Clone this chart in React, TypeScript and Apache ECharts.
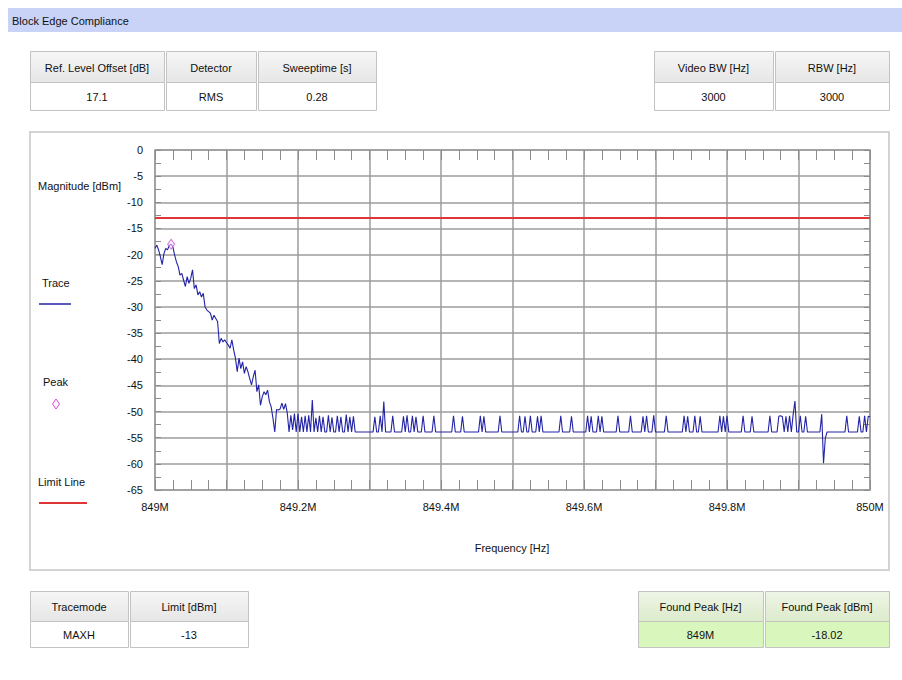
import React, { useEffect, useRef } from "react";
import * as echarts from "echarts";

// Sweep definition of the analyzer trace
const sweepStartHz = 849e6;
const sweepStopHz = 850e6;
const sweepPointCount = 401;

// Measured trace level per sweep point [dBm]
const traceDbm = [
  -18.8, -18.2, -19.1, -20.4, -21.9, -19.8, -18.8, -19.1, -18.2, -18.02, -18.5, -20.1, -21.4, -22.3, -23.9, -23.6, -24.9, -26.1, -24.2, -25.5,
  -24.5, -22.9, -26.5, -25.8, -27.7, -27.1, -28.1, -27.4, -30.0, -30.6, -30.9, -31.2, -32.5, -31.6, -32.2, -32.8, -37.0, -36.0, -36.7, -36.3,
  -36.8, -37.3, -37.9, -36.3, -38.2, -39.8, -42.4, -39.8, -41.8, -40.5, -42.7, -41.4, -42.4, -43.7, -44.9, -43.3, -42.1, -46.2, -44.9, -48.8,
  -47.2, -46.2, -46.8, -45.9, -48.1, -49.1, -51.3, -53.9, -49.6, -49.7, -49.5, -48.4, -49.6, -48.5, -50.3, -53.9, -50.7, -53.5, -50.4, -53.9,
  -50.4, -53.9, -51.0, -53.9, -50.8, -53.9, -50.7, -53.9, -47.8, -53.9, -51.2, -53.9, -50.8, -53.9, -51.0, -53.9, -53.9, -50.7, -53.9, -51.1,
  -53.9, -53.9, -50.8, -53.9, -51.0, -53.9, -53.9, -50.6, -53.9, -51.0, -53.9, -50.9, -53.9, -53.9, -53.9, -53.9, -53.9, -53.9, -53.9, -53.9,
  -53.9, -53.9, -53.9, -51.0, -53.9, -53.9, -50.8, -53.9, -48.1, -53.9, -53.9, -53.9, -53.9, -50.8, -53.9, -53.9, -53.9, -53.9, -53.9, -50.9,
  -53.9, -50.7, -53.9, -53.9, -50.8, -53.9, -51.0, -53.9, -53.9, -53.9, -50.8, -53.9, -53.9, -53.9, -53.9, -53.9, -50.8, -53.9, -53.9, -53.9,
  -53.9, -53.9, -53.9, -53.9, -53.9, -53.9, -53.9, -50.8, -53.9, -53.9, -53.9, -53.9, -50.9, -53.9, -53.9, -53.9, -53.9, -53.9, -53.9, -53.9,
  -53.9, -53.9, -50.8, -53.9, -50.9, -53.9, -53.9, -53.9, -53.9, -53.9, -53.9, -53.9, -53.9, -50.8, -53.9, -53.9, -53.9, -53.9, -53.9, -53.9,
  -53.9, -53.9, -53.9, -53.9, -50.8, -53.9, -53.9, -50.9, -53.9, -53.9, -50.8, -53.9, -53.9, -53.9, -50.9, -53.9, -50.8, -53.9, -53.9, -53.9,
  -53.9, -53.9, -53.9, -53.9, -53.9, -53.9, -53.9, -50.8, -53.9, -53.9, -53.9, -53.9, -53.9, -50.9, -53.9, -53.9, -53.9, -53.9, -53.9, -53.9,
  -53.9, -53.9, -50.8, -53.9, -50.9, -53.9, -53.9, -53.9, -50.8, -53.9, -50.9, -53.9, -53.9, -53.9, -53.9, -53.9, -53.9, -53.9, -53.9, -50.8,
  -53.9, -53.9, -53.9, -53.9, -53.9, -53.9, -50.8, -53.9, -53.9, -53.9, -53.9, -53.9, -53.9, -50.9, -53.9, -50.8, -53.9, -53.9, -53.9, -50.7,
  -53.9, -53.9, -53.9, -53.9, -53.9, -53.9, -50.8, -53.9, -53.9, -53.9, -53.9, -53.9, -53.9, -53.9, -53.9, -53.9, -50.8, -53.9, -50.9, -53.9,
  -53.9, -53.9, -50.8, -53.9, -53.9, -50.9, -53.9, -53.9, -53.9, -53.9, -53.9, -53.9, -53.9, -53.9, -53.9, -53.9, -50.8, -53.9, -50.9, -53.9,
  -50.8, -53.9, -53.9, -53.9, -53.9, -53.9, -53.9, -53.9, -53.9, -50.8, -53.9, -53.9, -53.9, -53.9, -50.9, -53.9, -53.9, -53.9, -53.9, -53.9,
  -53.9, -53.9, -53.9, -53.9, -50.8, -53.9, -53.9, -53.9, -53.9, -50.9, -50.8, -51.0, -53.9, -50.9, -53.9, -50.8, -53.9, -50.6, -48.0, -53.9,
  -53.9, -50.8, -53.9, -53.9, -50.9, -53.9, -53.9, -53.9, -53.9, -53.9, -53.9, -53.9, -53.9, -50.5, -59.9, -55.1, -53.9, -53.9, -53.9, -53.9,
  -53.9, -53.9, -53.9, -53.9, -53.9, -53.9, -53.9, -50.8, -53.9, -53.9, -53.9, -53.9, -53.9, -53.9, -50.9, -53.9, -53.9, -50.8, -53.9, -50.9,
  -51.0,
];

const limitDbm = -13;

// Axis ranges
const levelMinDbm = -65;
const levelMaxDbm = 0;
const levelStepDbm = 5;
const freqStepHz = 1e5;

// Measurement settings tables
const setupHeaders = ["Ref. Level Offset [dB]", "Detector", "Sweeptime [s]"];
const setupValues = ["17.1", "RMS", "0.28"];
const bandwidthHeaders = ["Video BW [Hz]", "RBW [Hz]"];
const bandwidthValues = ["3000", "3000"];
const traceHeaders = ["Tracemode", "Limit [dBm]"];
const traceModes = ["MAXH"];
const peakHeaders = ["Found Peak [Hz]", "Found Peak [dBm]"];

const FONT_FAMILY = '"Liberation Sans", Arial, sans-serif';
const FONT = `11px ${FONT_FAMILY}`;
const TRACE_COLOR = "#2323a6";
const LIMIT_COLOR = "#e03535";
const PEAK_COLOR = "#d04ed0";
const GRID_COLOR = "#9c9c9c";
const TICK_COLOR = "#8c8c8c";

type Col = { x: number; w: number };

function text(x: number, y: number, s: string, align: string = "center", extra: any = {}) {
  return {
    type: "text",
    x,
    y,
    silent: true,
    style: {
      text: s,
      font: FONT,
      fill: "#111",
      align,
      verticalAlign: "middle",
      textAlign: align,
      textVerticalAlign: "middle",
      ...extra,
    },
  };
}

function table(
  cols: Col[],
  top: number,
  headH: number,
  valH: number,
  headers: string[],
  values: string[],
  headFill: any,
  valFill: string
) {
  const els: any[] = [];
  cols.forEach((c, i) => {
    els.push({
      type: "rect",
      silent: true,
      shape: { x: c.x + 0.5, y: top + 0.5, width: c.w, height: headH },
      style: { fill: headFill, stroke: "#c3c3c3", lineWidth: 1 },
    });
    els.push({
      type: "rect",
      silent: true,
      shape: { x: c.x + 0.5, y: top + headH + 0.5, width: c.w, height: valH },
      style: { fill: valFill, stroke: "#c3c3c3", lineWidth: 1 },
    });
    els.push(text(c.x + c.w / 2, top + headH / 2 + 1, headers[i]));
    els.push(text(c.x + c.w / 2, top + headH + valH / 2 + 1, values[i]));
  });
  return els;
}

export default function App() {
  const ref = useRef<HTMLDivElement>(null);

  useEffect(() => {
    document.body.style.margin = "0";
    if (!ref.current) return;
    const chart = echarts.init(ref.current, undefined, { renderer: "svg" });

    const stepHz = (sweepStopHz - sweepStartHz) / (sweepPointCount - 1);
    const traceData = traceDbm.map((v, i) => [sweepStartHz + i * stepHz, v]);

    // Peak search over the trace
    let peakIdx = 0;
    traceDbm.forEach((v, i) => {
      if (v > traceDbm[peakIdx]) peakIdx = i;
    });
    const peakHz = traceData[peakIdx][0] as number;
    const peakDbm = traceDbm[peakIdx];
    const peakValues = [`${Math.round(peakHz / 1e6)}M`, peakDbm.toFixed(2)];

    const greyHead = new echarts.graphic.LinearGradient(0, 0, 0, 1, [
      { offset: 0, color: "#f6f6f6" },
      { offset: 1, color: "#e6e6e6" },
    ]);
    const greenHead = new echarts.graphic.LinearGradient(0, 0, 0, 1, [
      { offset: 0, color: "#eef5e6" },
      { offset: 1, color: "#dcebcb" },
    ]);

    const graphics: any[] = [
      // title band
      {
        type: "rect",
        silent: true,
        shape: { x: 8, y: 8, width: 894, height: 24 },
        style: { fill: "#c8d3f7" },
      },
      text(12, 21, "Block Edge Compliance", "left"),
      // chart panel
      {
        type: "rect",
        silent: true,
        z: -10,
        shape: { x: 30, y: 132, width: 859, height: 438 },
        style: { fill: "#fff", stroke: "#d3d3d3", lineWidth: 2 },
      },
      ...table(
        [
          { x: 30, w: 134 },
          { x: 166, w: 90 },
          { x: 258, w: 118 },
        ],
        51, 31, 28, setupHeaders, setupValues, greyHead, "#ffffff"
      ),
      ...table(
        [
          { x: 654, w: 119 },
          { x: 775, w: 114 },
        ],
        51, 31, 28, bandwidthHeaders, bandwidthValues, greyHead, "#ffffff"
      ),
      ...table(
        [
          { x: 30, w: 98 },
          { x: 130, w: 118 },
        ],
        591, 30, 26, traceHeaders, [traceModes[0], String(limitDbm)], greyHead, "#ffffff"
      ),
      ...table(
        [
          { x: 638, w: 125 },
          { x: 765, w: 124 },
        ],
        591, 30, 26, peakHeaders, peakValues, greenHead, "#d9f6bd"
      ),
      // axis titles
      text(38, 186, "Magnitude [dBm]", "left"),
      text(512, 548, "Frequency [Hz]", "center"),
      // legend
      text(42, 283, "Trace", "left"),
      {
        type: "line",
        silent: true,
        shape: { x1: 39, y1: 304, x2: 71, y2: 304 },
        style: { stroke: TRACE_COLOR, lineWidth: 1.5 },
      },
      text(43, 382, "Peak", "left"),
      {
        type: "polygon",
        silent: true,
        shape: { points: [[56, 399], [59.5, 404], [56, 409], [52.5, 404]] },
        style: { fill: "rgba(255,235,255,0.6)", stroke: PEAK_COLOR, lineWidth: 1 },
      },
      text(38, 482, "Limit Line", "left"),
      {
        type: "line",
        silent: true,
        shape: { x1: 39, y1: 503, x2: 87, y2: 503 },
        style: { stroke: LIMIT_COLOR, lineWidth: 2 },
      },
    ];

    const freqLabel = (v: number) => {
      const k = Math.round((v - sweepStartHz) / freqStepHz);
      if (k % 2 !== 0) return "";
      return `${+(v / 1e6).toFixed(1)}M`;
    };

    // Ticks point into the plot frame on all four sides
    const xCommon = {
      type: "value",
      min: sweepStartHz,
      max: sweepStopHz,
      interval: freqStepHz,
      axisLine: { show: false, onZero: false },
      axisTick: { show: true, inside: true, length: 10, lineStyle: { color: TICK_COLOR, width: 1 } },
      minorTick: { show: true, splitNumber: 4, length: 10, lineStyle: { color: TICK_COLOR, width: 1 } },
    };
    const yCommon = {
      type: "value",
      min: levelMinDbm,
      max: levelMaxDbm,
      interval: levelStepDbm,
      axisLine: { show: false, onZero: false },
      axisTick: { show: true, inside: true, length: 6, lineStyle: { color: TICK_COLOR, width: 1 } },
      minorTick: { show: true, splitNumber: 2, length: 6, lineStyle: { color: TICK_COLOR, width: 1 } },
    };

    chart.setOption({
      animation: false,
      backgroundColor: "#ffffff",
      grid: {
        left: 155,
        top: 150,
        right: 32,
        bottom: 190,
        show: true,
        borderColor: GRID_COLOR,
        borderWidth: 1.5,
      },
      xAxis: [
        {
          ...xCommon,
          position: "bottom",
          splitLine: { show: true, lineStyle: { color: GRID_COLOR, width: 1.5 } },
          axisLabel: {
            formatter: freqLabel,
            color: "#111",
            fontSize: 11,
            fontFamily: FONT_FAMILY,
            margin: 11,
          },
        },
        {
          ...xCommon,
          position: "top",
          splitLine: { show: false },
          axisLabel: { show: false },
        },
      ],
      yAxis: [
        {
          ...yCommon,
          position: "left",
          splitLine: { show: true, lineStyle: { color: GRID_COLOR, width: 1.5 } },
          axisLabel: { color: "#111", fontSize: 11, fontFamily: FONT_FAMILY, margin: 12 },
        },
        {
          ...yCommon,
          position: "right",
          splitLine: { show: false },
          axisLabel: { show: false },
        },
      ],
      series: [
        {
          name: "Limit Line",
          type: "line",
          xAxisIndex: 0,
          yAxisIndex: 0,
          symbol: "none",
          data: [
            [sweepStartHz, limitDbm],
            [sweepStopHz, limitDbm],
          ],
          lineStyle: { color: LIMIT_COLOR, width: 2 },
          z: 3,
        },
        {
          name: "Trace",
          type: "line",
          xAxisIndex: 0,
          yAxisIndex: 0,
          symbol: "none",
          data: traceData,
          lineStyle: { color: TRACE_COLOR, width: 1.1 },
          z: 4,
        },
        {
          name: "Peak",
          type: "scatter",
          xAxisIndex: 0,
          yAxisIndex: 0,
          symbol: "diamond",
          symbolSize: [7, 10],
          data: [[peakHz, peakDbm]],
          itemStyle: { color: "rgba(255,235,255,0.6)", borderColor: PEAK_COLOR, borderWidth: 1 },
          z: 5,
        },
      ],
      graphic: { elements: graphics },
    });

    return () => chart.dispose();
  }, []);

  return <div ref={ref} style={{ width: 902, height: 680 }} />;
}
